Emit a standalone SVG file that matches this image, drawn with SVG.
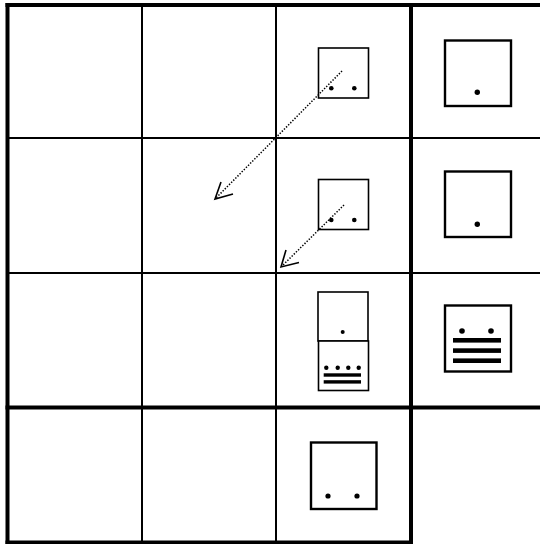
<svg xmlns="http://www.w3.org/2000/svg" width="540" height="544" viewBox="0 0 540 544">
<style>
.thin{stroke:#000;stroke-width:2;fill:none}
.thick{stroke:#000;stroke-width:4;fill:none}
.sbox{stroke:#000;stroke-width:1.6;fill:#fff}
.bbox{stroke:#000;stroke-width:2.4;fill:#fff}
.dot{fill:#000}
.bar{fill:#000}
.conn{stroke:#000;stroke-width:1.5;stroke-dasharray:1.4,1.6;fill:none}
.head{stroke:#000;stroke-width:1.6;fill:none}
</style>
<rect width="540" height="544" fill="#fff"/>
<g id="grid">
<line class="thin" x1="142" y1="5" x2="142" y2="542"/>
<line class="thin" x1="276" y1="5" x2="276" y2="542"/>
<line class="thin" x1="7.5" y1="138" x2="540" y2="138"/>
<line class="thin" x1="7.5" y1="273" x2="540" y2="273"/>
<line class="thick" x1="411" y1="5" x2="411" y2="544"/>
<line class="thick" x1="5.5" y1="407.5" x2="540" y2="407.5"/>
<line class="thick" x1="7.5" y1="3" x2="7.5" y2="544"/>
<line class="thick" x1="5.5" y1="5" x2="540" y2="5"/>
<line class="thick" x1="5.5" y1="542.5" x2="413" y2="542.5"/>
</g>
<g id="n-r1c3">
<rect class="sbox" x="318.5" y="48" width="50" height="50"/>
<circle class="dot" cx="331.3" cy="88.3" r="2.3"/>
<circle class="dot" cx="354.3" cy="88.3" r="2.3"/>
</g>
<g id="n-r1c4">
<rect class="bbox" x="445" y="40.5" width="66" height="65.5"/>
<circle class="dot" cx="477.3" cy="92.3" r="2.7"/>
</g>
<g id="n-r2c3">
<rect class="sbox" x="318.5" y="179.5" width="50" height="50"/>
<circle class="dot" cx="331.3" cy="220" r="2.3"/>
<circle class="dot" cx="354.3" cy="220" r="2.3"/>
</g>
<g id="n-r2c4">
<rect class="bbox" x="445" y="171.5" width="66" height="65.5"/>
<circle class="dot" cx="477.3" cy="224.3" r="2.7"/>
</g>
<g id="n-r3c3a">
<rect class="sbox" x="318" y="292" width="50" height="49"/>
<circle class="dot" cx="342.7" cy="332" r="2"/>
</g>
<g id="n-r3c3b">
<rect class="sbox" x="318.5" y="341" width="50" height="49.5"/>
<circle class="dot" cx="326.3" cy="367.7" r="2.2"/>
<circle class="dot" cx="337.7" cy="367.7" r="2.2"/>
<circle class="dot" cx="348.3" cy="367.7" r="2.2"/>
<circle class="dot" cx="358.7" cy="367.7" r="2.2"/>
<rect class="bar" x="323.7" y="373.3" width="37.3" height="3.4"/>
<rect class="bar" x="323.7" y="380.2" width="37.3" height="3.4"/>
</g>
<g id="n-r3c4">
<rect class="bbox" x="445" y="305.5" width="66" height="66"/>
<circle class="dot" cx="462" cy="331" r="2.8"/>
<circle class="dot" cx="491" cy="331" r="2.8"/>
<rect class="bar" x="453" y="338" width="48" height="4.6"/>
<rect class="bar" x="453" y="348.3" width="48" height="4.6"/>
<rect class="bar" x="453" y="358.4" width="48" height="4.6"/>
</g>
<g id="n-r4c3">
<rect class="bbox" x="311" y="442.5" width="65.5" height="66.5"/>
<circle class="dot" cx="328" cy="496" r="2.6"/>
<circle class="dot" cx="357" cy="496" r="2.6"/>
</g>
<g id="connectors">
<line class="conn" x1="342" y1="71" x2="216" y2="198"/>
<polyline class="head" points="221,182 215,199 233,194"/>
<line class="conn" x1="344" y1="205" x2="282" y2="266"/>
<polyline class="head" points="286,250 281,267 299,262.5"/>
</g>
</svg>
